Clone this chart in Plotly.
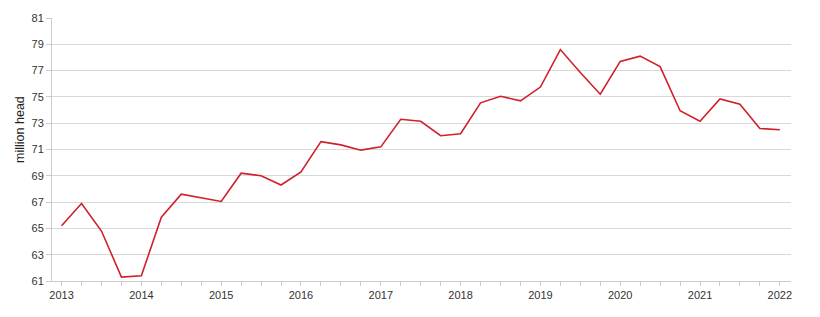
import plotly.graph_objects as go

years = [2013 + i * 0.25 for i in range(37)]
values = [65.2, 66.9, 64.8, 61.3, 61.4, 65.85, 67.6, 67.3, 67.05, 69.2, 69.0, 68.3,
          69.3, 71.6, 71.35, 70.95, 71.2, 73.3, 73.15, 72.05, 72.2, 74.55, 75.05, 74.7,
          75.75, 78.6, 76.85, 75.2, 77.7, 78.1, 77.3, 73.95, 73.15, 74.85, 74.45, 72.6, 72.5]
year_ticks = list(range(2013, 2023))
y_ticks = list(range(61, 82, 2))
y_title = "million head"

fig = go.Figure()
fig.add_trace(go.Scatter(x=years, y=values, mode="lines",
                         line=dict(color="#d0202a", width=1.6), hoverinfo="skip"))

fig.update_layout(
    width=820, height=317,
    margin=dict(l=52, r=29, t=13, b=36),
    paper_bgcolor="white", plot_bgcolor="white",
    showlegend=False,
    font=dict(family="Liberation Sans, Arial, sans-serif", size=11, color="#333333"),
)
fig.update_xaxes(
    range=[2012.88, 2022.14],
    tickvals=year_ticks, ticktext=[str(y) for y in year_ticks],
    showgrid=False, zeroline=False,
    showline=True, linecolor="#cccccc", linewidth=1,
    ticks="outside", ticklen=4, tickcolor="#cccccc",
    minor=dict(dtick=0.25, tick0=2013, ticks="outside", ticklen=4, tickcolor="#cccccc", showgrid=False),
    tickfont=dict(size=11, color="#333333"),
)
fig.update_yaxes(
    range=[61, 81],
    tickvals=y_ticks,
    showgrid=True, gridcolor="#d9d9d9", gridwidth=1,
    zeroline=False,
    showline=True, linecolor="#cccccc", linewidth=1,
    ticks="outside", ticklen=5, tickcolor="#cccccc",
    tickfont=dict(size=11, color="#333333"),
)
fig.add_annotation(
    text=y_title, textangle=-90, showarrow=False,
    xref="paper", yref="paper", x=-0.0426, y=0.5765,
    xanchor="center", yanchor="middle",
    font=dict(size=12.5, color="#222222"),
)

fig.write_html("out.html")
